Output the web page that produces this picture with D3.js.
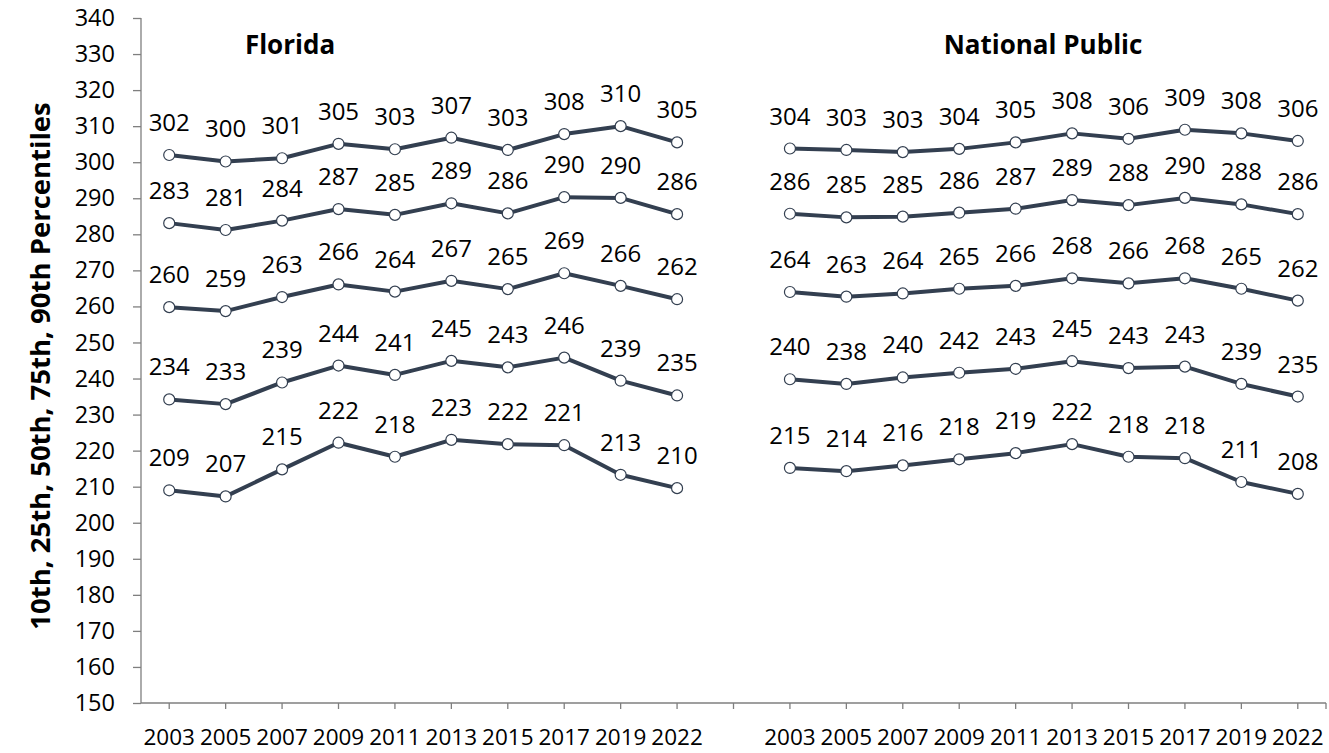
<!DOCTYPE html>
<html>
<head>
<meta charset="utf-8">
<script src="https://cdn.jsdelivr.net/npm/d3@7"></script>
<style>
  html, body { margin: 0; padding: 0; background: #fff; }
  svg { display: block; }
  text { font-family: "Open Sans", Lato, sans-serif; fill: #000; }
</style>
</head>
<body>
<svg id="chart" width="1329" height="753"></svg>
<script>
// ---------- DATA ----------
const years = ["2003", "2005", "2007", "2009", "2011", "2013", "2015", "2017", "2019", "2022"];
const panels = ["Florida", "National Public"];
const percentiles = ["90th", "75th", "50th", "25th", "10th"];
const yTicks = [150, 160, 170, 180, 190, 200, 210, 220, 230, 240, 250, 260, 270, 280, 290, 300, 310, 320, 330, 340];

// plotted (unrounded) scale scores
const florida90 = [302.0, 300.2, 301.1, 305.1, 303.6, 306.8, 303.4, 307.8, 310.0, 305.5];
const florida75 = [283.1, 281.2, 283.8, 287.0, 285.4, 288.6, 285.8, 290.3, 290.1, 285.6];
const florida50 = [259.8, 258.7, 262.6, 266.1, 264.1, 267.1, 264.8, 269.2, 265.7, 262.0];
const florida25 = [234.2, 232.9, 238.9, 243.6, 241.0, 244.9, 243.1, 245.8, 239.4, 235.3];
const florida10 = [209.0, 207.3, 214.8, 222.2, 218.3, 223.0, 221.8, 221.5, 213.3, 209.6];

const national90 = [303.8, 303.4, 302.8, 303.7, 305.5, 308.0, 306.5, 309.0, 308.0, 305.9];
const national75 = [285.7, 284.7, 284.9, 286.0, 287.1, 289.5, 288.1, 290.1, 288.3, 285.6];
const national50 = [264.0, 262.7, 263.6, 264.9, 265.7, 267.8, 266.4, 267.8, 264.9, 261.6];
const national25 = [239.8, 238.5, 240.3, 241.6, 242.7, 244.8, 242.9, 243.3, 238.5, 235.0];
const national10 = [215.2, 214.3, 215.9, 217.6, 219.3, 221.8, 218.3, 217.9, 211.3, 208.0];

// data label texts (rounded, as printed)
const floridaLabels90 = [302, 300, 301, 305, 303, 307, 303, 308, 310, 305];
const floridaLabels75 = [283, 281, 284, 287, 285, 289, 286, 290, 290, 286];
const floridaLabels50 = [260, 259, 263, 266, 264, 267, 265, 269, 266, 262];
const floridaLabels25 = [234, 233, 239, 244, 241, 245, 243, 246, 239, 235];
const floridaLabels10 = [209, 207, 215, 222, 218, 223, 222, 221, 213, 210];

const nationalLabels90 = [304, 303, 303, 304, 305, 308, 306, 309, 308, 306];
const nationalLabels75 = [286, 285, 285, 286, 287, 289, 288, 290, 288, 286];
const nationalLabels50 = [264, 263, 264, 265, 266, 268, 266, 268, 265, 262];
const nationalLabels25 = [240, 238, 240, 242, 243, 245, 243, 243, 239, 235];
const nationalLabels10 = [215, 214, 216, 218, 219, 222, 218, 218, 211, 208];

const yTitle = "10th, 25th, 50th, 75th, 90th Percentiles";

// ---------- BUILD ----------
const floridaSeries = [florida90, florida75, florida50, florida25, florida10];
const floridaLabelSeries = [floridaLabels90, floridaLabels75, floridaLabels50, floridaLabels25, floridaLabels10];
const nationalSeries = [national90, national75, national50, national25, national10];
const nationalLabelSeries = [nationalLabels90, nationalLabels75, nationalLabels50, nationalLabels25, nationalLabels10];

// category keys: Florida years, a gap, National years
const cats = years.map(y => "FL-" + y).concat(["gap"], years.map(y => "NP-" + y));
const catLabel = k => k === "gap" ? "" : k.slice(3);

const svg = d3.select("#chart");
const plotLeft = 141, plotRight = 1326, plotTop = 18, plotBottom = 703;
const FONT = "'Open Sans', Lato, sans-serif";

const x = d3.scaleBand().domain(cats).range([plotLeft, plotRight]).padding(0);
const cx = k => x(k) + x.bandwidth() / 2;
const y = d3.scaleLinear().domain([150, 340]).range([plotBottom, plotTop]);

const axisColor = "#7f7f7f";
const lineColor = "#333f50";

// Y axis
const yAxis = svg.append("g")
  .attr("transform", `translate(${plotLeft},0)`)
  .call(d3.axisLeft(y).tickValues(yTicks).tickSize(8).tickPadding(18).tickFormat(d3.format("d")));
yAxis.select(".domain").attr("stroke", axisColor).attr("stroke-width", 1.3).attr("d", `M-0,${plotTop}V${plotBottom}`);
yAxis.selectAll(".tick line").attr("stroke", axisColor).attr("stroke-width", 1.3);
yAxis.selectAll(".tick text").attr("font-size", 23.5).attr("font-family", FONT).attr("fill", "#000");

// X axis
const xAxis = svg.append("g")
  .attr("transform", `translate(0,${plotBottom})`)
  .call(d3.axisBottom(x).tickSize(6).tickPadding(20).tickFormat(catLabel));
xAxis.select(".domain").attr("stroke", axisColor).attr("stroke-width", 1.3).attr("d", `M${plotLeft},0H${plotRight}`);
xAxis.selectAll(".tick line").attr("stroke", axisColor).attr("stroke-width", 1.3);
xAxis.selectAll(".tick text").attr("font-size", 22.5).attr("font-family", FONT).attr("fill", "#000");
xAxis.append("line").attr("x1", plotRight).attr("x2", plotRight).attr("y1", 0).attr("y2", 6)
  .attr("stroke", axisColor).attr("stroke-width", 1.3);

// Y title
svg.append("text")
  .attr("transform", `translate(50,366) rotate(-90)`)
  .attr("text-anchor", "middle")
  .attr("font-size", 27.5)
  .attr("font-weight", "bold")
  .text(yTitle);

// Panel titles
const panelTitleX = [290, 1043];
panels.forEach((p, i) => {
  svg.append("text")
    .attr("x", panelTitleX[i]).attr("y", 54)
    .attr("text-anchor", "middle")
    .attr("font-size", 26)
    .attr("font-weight", "bold")
    .text(p);
});

// Lines, markers, labels
const line = d3.line().x(d => cx(d.k)).y(d => y(d.v));

function drawPanel(prefix, series, labelSeries) {
  series.forEach((vals, si) => {
    const pts = vals.map((v, i) => ({ k: prefix + years[i], v, lab: labelSeries[si][i] }));
    const g = svg.append("g").attr("class", "series " + prefix + percentiles[si]);
    g.append("path").datum(pts)
      .attr("d", line)
      .attr("fill", "none")
      .attr("stroke", lineColor)
      .attr("stroke-width", 4)
      .attr("stroke-linejoin", "round");
    g.selectAll("circle").data(pts).join("circle")
      .attr("cx", d => cx(d.k)).attr("cy", d => y(d.v))
      .attr("r", 5.5)
      .attr("fill", "#fff")
      .attr("stroke", lineColor)
      .attr("stroke-width", 1.2);
    g.selectAll("text").data(pts).join("text")
      .attr("x", d => cx(d.k)).attr("y", d => y(d.v) - 24)
      .attr("text-anchor", "middle")
      .attr("font-size", 24)
      .text(d => d.lab);
  });
}
drawPanel("FL-", floridaSeries, floridaLabelSeries);
drawPanel("NP-", nationalSeries, nationalLabelSeries);
</script>
</body>
</html>
